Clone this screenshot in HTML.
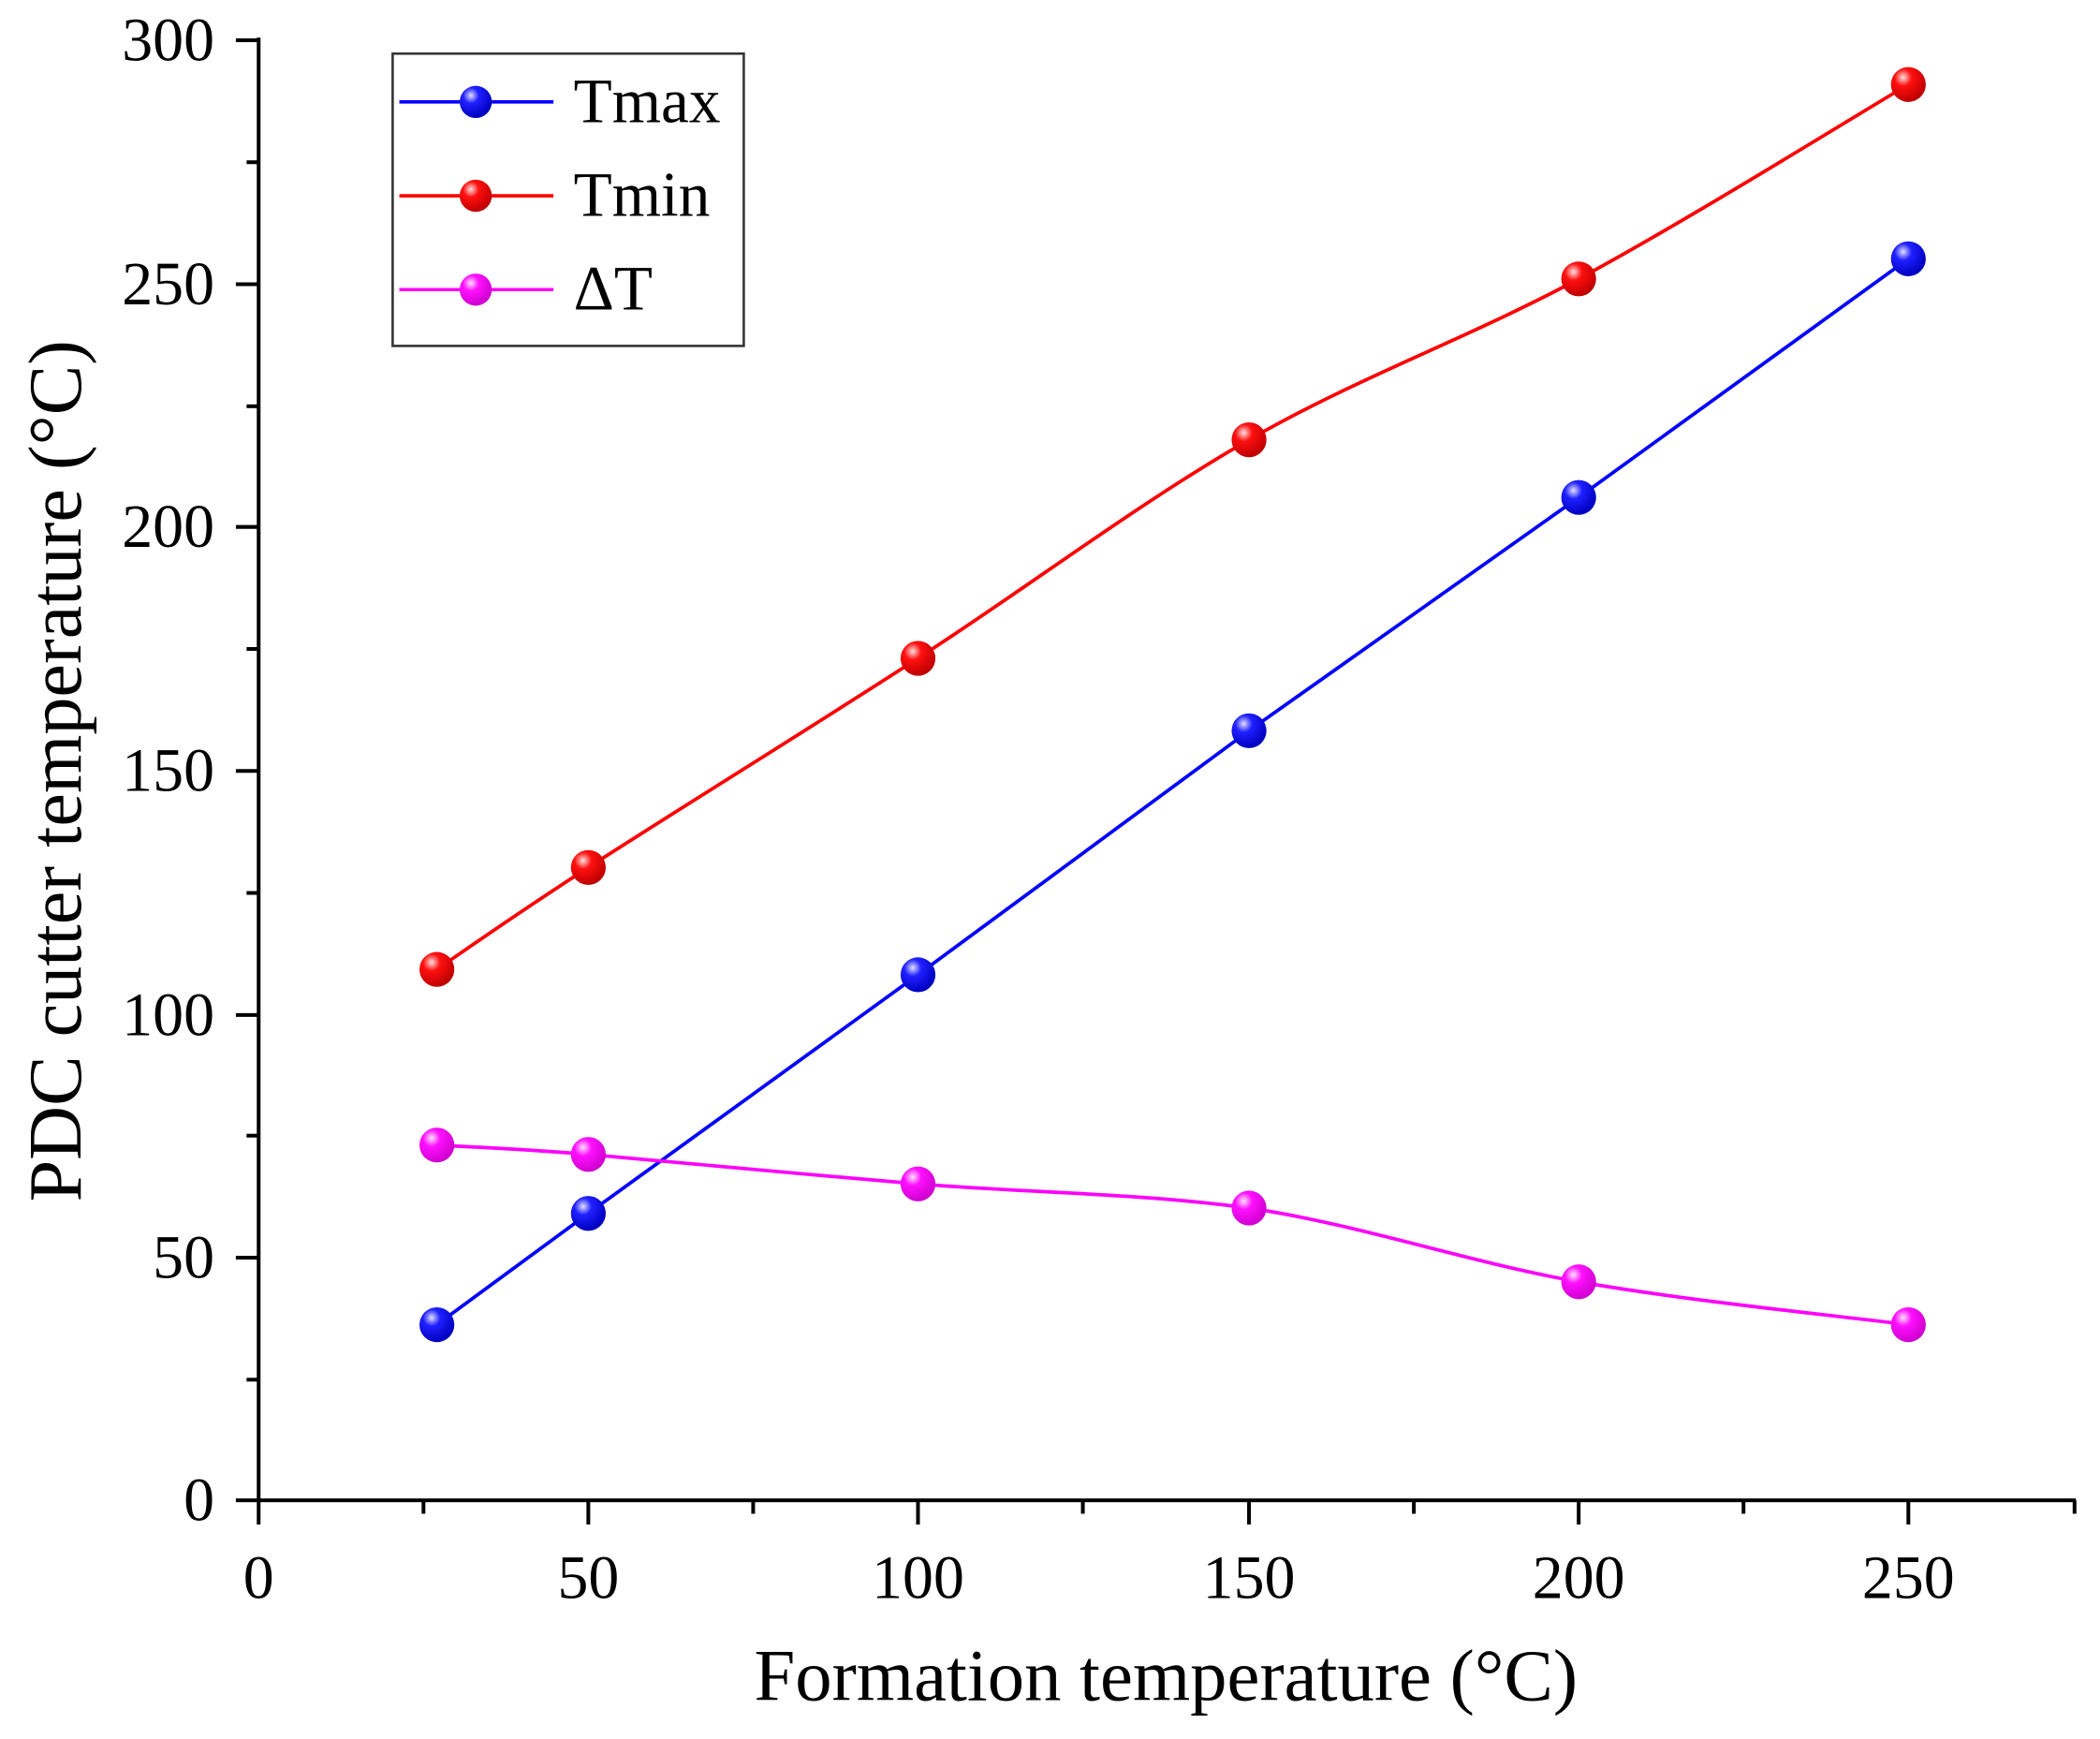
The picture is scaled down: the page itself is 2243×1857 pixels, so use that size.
<!DOCTYPE html>
<html><head><meta charset="utf-8"><style>
html,body{margin:0;padding:0;background:#fff;}
svg{display:block;}
text{font-family:"Liberation Serif","Times New Roman",serif;fill:#000;}
</style></head><body>
<svg width="2243" height="1857" viewBox="0 0 1567 1297" preserveAspectRatio="none" xmlns="http://www.w3.org/2000/svg">
<defs>
<radialGradient id="gb" cx="0.35" cy="0.3" r="0.7"><stop offset="0" stop-color="#e0e0ff"/><stop offset="0.35" stop-color="#2020ff"/><stop offset="1" stop-color="#0000c0"/></radialGradient>
<radialGradient id="gr" cx="0.35" cy="0.3" r="0.7"><stop offset="0" stop-color="#ffe0e0"/><stop offset="0.35" stop-color="#ff1010"/><stop offset="1" stop-color="#c00000"/></radialGradient>
<radialGradient id="gm" cx="0.35" cy="0.3" r="0.7"><stop offset="0" stop-color="#ffe0ff"/><stop offset="0.35" stop-color="#ff10ff"/><stop offset="1" stop-color="#d000d0"/></radialGradient>
</defs>
<g stroke="#000" stroke-width="2.8" fill="none">
<line x1="193" y1="28" x2="193" y2="1120"/>
<line x1="176" y1="1119" x2="1549" y2="1119"/>
<line x1="176" y1="30" x2="193" y2="30"/><line x1="184" y1="121" x2="193" y2="121"/>
<line x1="176" y1="212" x2="193" y2="212"/><line x1="184" y1="303" x2="193" y2="303"/>
<line x1="176" y1="393" x2="193" y2="393"/><line x1="184" y1="484" x2="193" y2="484"/>
<line x1="176" y1="575" x2="193" y2="575"/><line x1="184" y1="666" x2="193" y2="666"/>
<line x1="176" y1="757" x2="193" y2="757"/><line x1="184" y1="847" x2="193" y2="847"/>
<line x1="176" y1="938" x2="193" y2="938"/><line x1="184" y1="1029" x2="193" y2="1029"/>
<line x1="193" y1="1119" x2="193" y2="1137"/><line x1="316" y1="1119" x2="316" y2="1129"/>
<line x1="439" y1="1119" x2="439" y2="1137"/><line x1="562" y1="1119" x2="562" y2="1129"/>
<line x1="685" y1="1119" x2="685" y2="1137"/><line x1="808" y1="1119" x2="808" y2="1129"/>
<line x1="932" y1="1119" x2="932" y2="1137"/><line x1="1055" y1="1119" x2="1055" y2="1129"/>
<line x1="1178" y1="1119" x2="1178" y2="1137"/><line x1="1301" y1="1119" x2="1301" y2="1129"/>
<line x1="1424" y1="1119" x2="1424" y2="1137"/><line x1="1548" y1="1119" x2="1548" y2="1129"/>
</g>
<g font-size="46" text-anchor="end">
<text x="160" y="45">300</text><text x="160" y="227">250</text><text x="160" y="408">200</text>
<text x="160" y="590">150</text><text x="160" y="772">100</text><text x="160" y="953">50</text><text x="160" y="1134">0</text>
</g>
<g font-size="46" text-anchor="middle">
<text x="193" y="1192">0</text><text x="439" y="1192">50</text><text x="685" y="1192">100</text>
<text x="932" y="1192">150</text><text x="1178" y="1192">200</text><text x="1424" y="1192">250</text>
</g>
<text x="870" y="1268" font-size="55" text-anchor="middle">Formation temperature (°C)</text>
<text transform="translate(60,575) rotate(-90)" font-size="56" text-anchor="middle">PDC cutter temperature (°C)</text>
<g fill="none" stroke-width="2.6">
<polyline points="326,988 439,905 685,727 932,545 1178,371 1424,193" stroke="#0000ff"/>
<path d="M326,723 C344.8,710.3 379.2,685.7 439,647 C498.8,608.3 602.8,544.2 685,491 C767.2,437.8 849.8,375.2 932,328 C1014.2,280.8 1096,252.2 1178,208 C1260,163.8 1383,87.2 1424,63" stroke="#ff0000"/>
<path d="M326,854 C344.8,855.2 379.2,856.2 439,861 C498.8,865.8 602.8,876.3 685,883 C767.2,889.7 849.8,889.8 932,901 C1014.2,913.2 1096,941.5 1178,956 C1260,970.5 1383,982.7 1424,988" stroke="#ff00ff"/>
</g>
<g>
<circle cx="326" cy="988" r="13" fill="url(#gb)"/><circle cx="439" cy="905" r="13" fill="url(#gb)"/><circle cx="685" cy="727" r="13" fill="url(#gb)"/><circle cx="932" cy="545" r="13" fill="url(#gb)"/><circle cx="1178" cy="371" r="13" fill="url(#gb)"/><circle cx="1424" cy="193" r="13" fill="url(#gb)"/>
<circle cx="326" cy="723" r="13" fill="url(#gr)"/><circle cx="439" cy="647" r="13" fill="url(#gr)"/><circle cx="685" cy="491" r="13" fill="url(#gr)"/><circle cx="932" cy="328" r="13" fill="url(#gr)"/><circle cx="1178" cy="208" r="13" fill="url(#gr)"/><circle cx="1424" cy="63" r="13" fill="url(#gr)"/>
<circle cx="326" cy="854" r="13" fill="url(#gm)"/><circle cx="439" cy="861" r="13" fill="url(#gm)"/><circle cx="685" cy="883" r="13" fill="url(#gm)"/><circle cx="932" cy="901" r="13" fill="url(#gm)"/><circle cx="1178" cy="956" r="13" fill="url(#gm)"/><circle cx="1424" cy="988" r="13" fill="url(#gm)"/>
</g>
<rect x="293" y="40" width="262" height="218" fill="#fff" stroke="#333" stroke-width="1.8"/>
<line x1="298" y1="76" x2="413" y2="76" stroke="#0000ff" stroke-width="2.5"/>
<line x1="298" y1="146" x2="413" y2="146" stroke="#ff0000" stroke-width="2.5"/>
<line x1="298" y1="216" x2="413" y2="216" stroke="#ff00ff" stroke-width="2.5"/>
<circle cx="355" cy="76" r="12" fill="url(#gb)"/>
<circle cx="355" cy="146" r="12" fill="url(#gr)"/>
<circle cx="355" cy="216" r="12" fill="url(#gm)"/>
<g font-size="47"><text x="428" y="91">Tmax</text><text x="428" y="161">Tmin</text><text x="428" y="231">ΔT</text></g>
</svg>
</body></html>
